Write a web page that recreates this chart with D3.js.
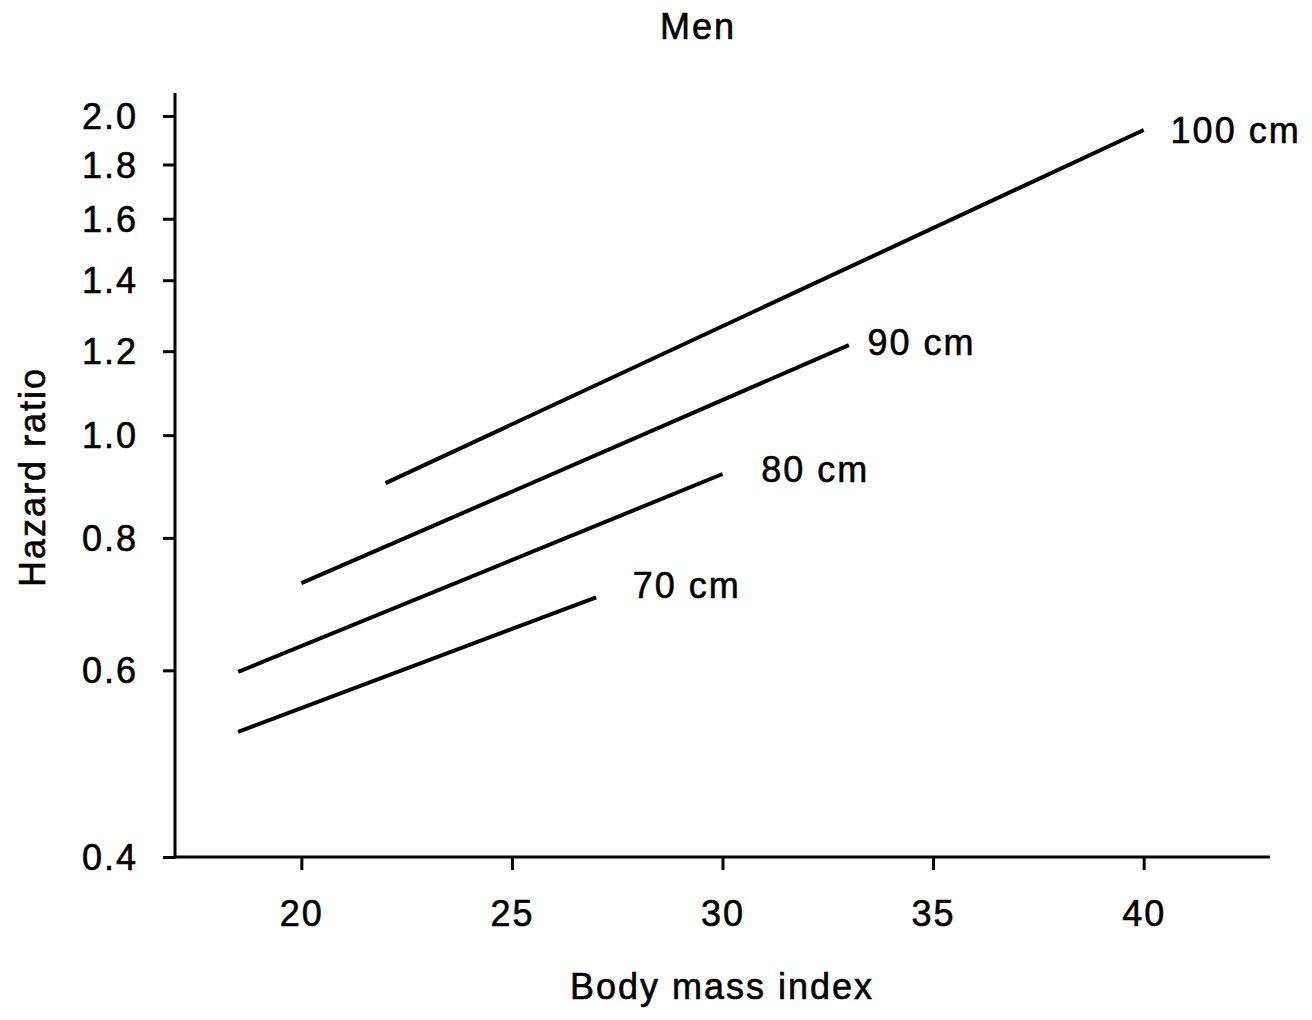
<!DOCTYPE html>
<html>
<head>
<meta charset="utf-8">
<script src="https://cdn.jsdelivr.net/npm/d3@7"></script>
<style>
    body { margin: 0; background: #fff; }
    svg text { font-family: Arial, "Liberation Sans", sans-serif; fill: #000; stroke: #000; stroke-width: 0.6px; }
</style>
</head>
<body>
<div id="chart"></div>
<script>
    // waist circumference groups, one line each
    var waists = ['70 cm', '80 cm', '90 cm', '100 cm'];
    var bmiStart = [18.5, 18.5, 20, 22];
    var bmiEnd = [27, 30, 33, 40];
    var hrStart = [0.525, 0.598, 0.725, 0.901];
    var hrEnd = [0.703, 0.919, 1.216, 1.94];
    // where each label sits, in data units
    var labelBmi = [27.87, 30.92, 33.44, 40.64];
    var labelHr = [0.722, 0.929, 1.224, 1.94];

    var xTicks = [20, 25, 30, 35, 40];
    var yTicks = [0.4, 0.6, 0.8, 1.0, 1.2, 1.4, 1.6, 1.8, 2.0];

    var w = 1312,
        h = 1020,
        plotLeft = 175,
        plotRight = 1270,
        plotTop = 93,
        plotBottom = 857,
        fs = 36;

    var x = d3.scaleLinear().domain([17, 43]).range([plotLeft, plotRight]);
    var y = d3.scaleLog().domain([0.4, 2.0]).range([plotBottom, 116]);

    var svg = d3.select('#chart').append('svg')
        .attr('width', w)
        .attr('height', h);

    // axes
    var yAxis = svg.append('g')
        .attr('transform', 'translate(' + plotLeft + ',0)')
        .call(d3.axisLeft(y).tickValues(yTicks).tickFormat(d3.format('.1f'))
            .tickSize(12).tickPadding(25));
    var xAxis = svg.append('g')
        .attr('transform', 'translate(0,' + plotBottom + ')')
        .call(d3.axisBottom(x).tickValues(xTicks).tickSize(13).tickPadding(30));

    [yAxis, xAxis].forEach(function (g) {
        g.select('.domain').remove();
        g.selectAll('line').attr('stroke', '#000').attr('stroke-width', 3);
        g.selectAll('text')
            .attr('font-size', fs)
            .attr('letter-spacing', 2)
            .attr('font-family', 'Arial, "Liberation Sans", sans-serif');
    });
    yAxis.selectAll('text').attr('dy', '0.35em');

    svg.append('line')
        .attr('x1', plotLeft).attr('x2', plotLeft)
        .attr('y1', plotTop).attr('y2', plotBottom + 1.5)
        .attr('stroke', '#000').attr('stroke-width', 3);
    svg.append('line')
        .attr('x1', plotLeft - 1.5).attr('x2', plotRight)
        .attr('y1', plotBottom).attr('y2', plotBottom)
        .attr('stroke', '#000').attr('stroke-width', 3);

    // lines
    var rows = waists.map(function (d, i) {
        return { name: d, pts: [[bmiStart[i], hrStart[i]], [bmiEnd[i], hrEnd[i]]],
                 lx: labelBmi[i], ly: labelHr[i] };
    });
    var line = d3.line()
        .x(function (d) { return x(d[0]); })
        .y(function (d) { return y(d[1]); });

    svg.append('g').selectAll('path')
        .data(rows)
        .enter().append('path')
        .attr('d', function (d) { return line(d.pts); })
        .attr('fill', 'none')
        .attr('stroke', '#000')
        .attr('stroke-width', 4);

    svg.append('g').selectAll('text')
        .data(rows)
        .enter().append('text')
        .attr('x', function (d) { return x(d.lx); })
        .attr('y', function (d) { return y(d.ly); })
        .attr('dy', '0.35em')
        .attr('font-size', fs)
        .attr('letter-spacing', 2)
        .text(function (d) { return d.name; });

    // titles
    svg.append('text')
        .attr('x', 698).attr('y', 39)
        .attr('text-anchor', 'middle')
        .attr('font-size', fs)
        .attr('letter-spacing', 2)
        .text('Men');
    svg.append('text')
        .attr('x', 722).attr('y', 999)
        .attr('text-anchor', 'middle')
        .attr('font-size', fs)
        .attr('letter-spacing', 2)
        .text('Body mass index');
    svg.append('text')
        .attr('transform', 'translate(45,477) rotate(-90)')
        .attr('text-anchor', 'middle')
        .attr('font-size', fs)
        .attr('letter-spacing', 2)
        .text('Hazard ratio');
</script>
</body>
</html>
